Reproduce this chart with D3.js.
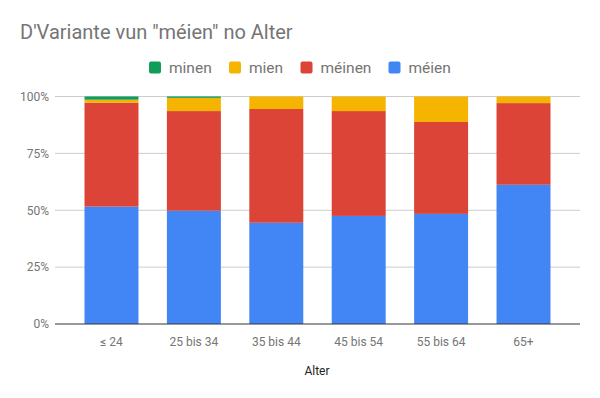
<!DOCTYPE html>
<html><head><meta charset="utf-8">
<script src="https://cdn.jsdelivr.net/npm/d3@7"></script>
<style>body{margin:0;background:#fff;font-family:Roboto,Arial,sans-serif;}</style>
</head><body><svg id="c" width="600" height="398"></svg>
<script>
const categories = ["≤ 24","25 bis 34","35 bis 44","45 bis 54","55 bis 64","65+"];
const seriesNames = ["méien","méinen","mien","minen"];
const meien  = [51.6, 49.8, 44.5, 47.5, 48.4, 61.2];
const meinen = [45.7, 43.8, 50.0, 46.1, 40.4, 35.9];
const mien   = [1.3, 5.8, 5.5, 6.4, 11.2, 2.9];
const minen  = [1.4, 0.6, 0, 0, 0, 0];
const colors = ["#4285f4","#db4437","#f4b400","#0f9d58"];
const yTicks = [0, 0.25, 0.5, 0.75, 1];
const legendOrder = ["minen","mien","méinen","méien"];

const rows = categories.map((c,i)=>({cat:c,"méien":meien[i],"méinen":meinen[i],"mien":mien[i],"minen":minen[i]}));
const svg = d3.select("#c");
const L=55, R=580, T=96.5, B=324;
const x = d3.scaleBand().domain(categories).range([L,R]).paddingInner(0.345).paddingOuter(0.358);
const y = d3.scaleLinear().domain([0,1]).range([B,T]);
const color = d3.scaleOrdinal().domain(seriesNames).range(colors);

svg.append("text").attr("x",20).attr("y",38.5).attr("font-size",20).attr("fill","#757575").text("D'Variante vun \"méien\" no Alter");

// gridlines
svg.append("g").selectAll("line").data(yTicks.filter(d=>d>0)).join("line")
  .attr("x1",L).attr("x2",R).attr("y1",d=>y(d)).attr("y2",d=>y(d))
  .attr("stroke","#cccccc").attr("stroke-width",1);

const yAxis = d3.axisLeft(y).tickValues(yTicks).tickFormat(d3.format(".0%")).tickSize(0).tickPadding(6);
const gy = svg.append("g").attr("transform",`translate(${L},0)`).call(yAxis);
gy.select(".domain").remove();
gy.selectAll("text").attr("font-size",12).attr("fill","#757575").attr("font-family","Roboto");

const stack = d3.stack().keys(seriesNames).value((d,k)=>d[k]/100);
const stacked = stack(rows);
svg.append("g").selectAll("g").data(stacked).join("g").attr("fill",d=>color(d.key))
  .selectAll("rect").data(d=>d).join("rect")
  .attr("x",d=>x(d.data.cat)).attr("width",x.bandwidth())
  .attr("y",d=>y(d[1])).attr("height",d=>Math.max(0,y(d[0])-y(d[1])));

const xAxis = d3.axisBottom(x).tickSize(0).tickPadding(13);
const gx = svg.append("g").attr("transform",`translate(0,${B})`).call(xAxis);
gx.select(".domain").remove();
gx.selectAll("text").attr("font-size",12).attr("fill","#757575").attr("font-family","Roboto");
svg.append("line").attr("x1",L).attr("x2",R).attr("y1",B).attr("y2",B).attr("stroke","#333").attr("stroke-width",1);

svg.append("text").attr("x",(L+R)/2 - 0.5).attr("y",375).attr("text-anchor","middle").attr("font-size",12).attr("fill","#222").text("Alter");

// legend
const lx = [149, 229, 300.5, 388.5];
const lg = svg.append("g");
legendOrder.forEach((k,i)=>{
  lg.append("rect").attr("x",lx[i]).attr("y",61.5).attr("width",12).attr("height",12).attr("rx",2).attr("fill",color(k));
  lg.append("text").attr("x",lx[i]+20).attr("y",72.5).attr("font-size",15.5).attr("fill","#757575").text(k);
});
</script></body></html>
